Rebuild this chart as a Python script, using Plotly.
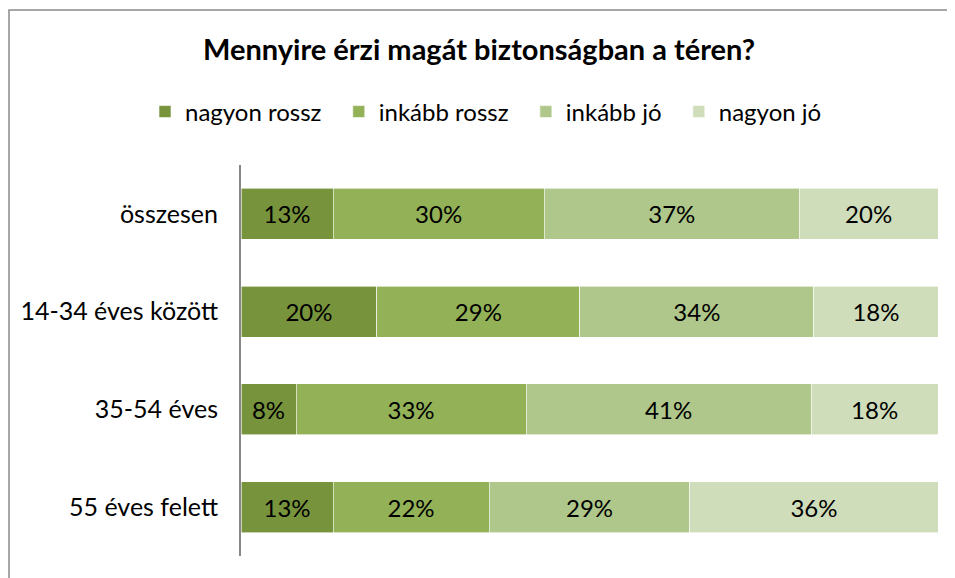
import plotly.graph_objects as go

categories = ["összesen", "14-34 éves között", "35-54 éves", "55 éves felett"]
series_names = ["nagyon rossz", "inkább rossz", "inkább jó", "nagyon jó"]
nagyon_rossz = [13.2, 19.5, 7.9, 13.2]
inkabb_rossz = [30.3, 29.1, 33.0, 22.4]
inkabb_jo = [36.6, 33.6, 40.9, 28.8]
nagyon_jo = [19.9, 17.8, 18.2, 35.6]
labels_nagyon_rossz = ["13%", "20%", "8%", "13%"]
labels_inkabb_rossz = ["30%", "29%", "33%", "22%"]
labels_inkabb_jo = ["37%", "34%", "41%", "29%"]
labels_nagyon_jo = ["20%", "18%", "18%", "36%"]
colors = ["#77933C", "#93B157", "#AFC78A", "#CFDDBA"]

values = [nagyon_rossz, inkabb_rossz, inkabb_jo, nagyon_jo]
labels = [labels_nagyon_rossz, labels_inkabb_rossz, labels_inkabb_jo, labels_nagyon_jo]

FONT = "Lato, Carlito, Calibri, sans-serif"
PAD = "\u00a0\u00a0"

fig = go.Figure()
for i, (name, vals, labs, col) in enumerate(zip(series_names, values, labels, colors)):
    fig.add_trace(go.Bar(
        name=name + (PAD if i < len(series_names) - 1 else ""),
        y=categories, x=vals, orientation="h",
        marker=dict(color=col, line=dict(width=0.6, color="white")),
        text=labs, textposition="inside", insidetextanchor="middle",
        constraintext="none",
        textfont=dict(size=24, color="black", family=FONT),
        width=0.52,
    ))

# page offset of the figure (browser body margin)
OX, OY = 8, 8
W, H = 955 - OX, 578 - OY
L, R, T, B = 241 - OX, 955 - 938, 165 - OY, 578 - 556
pw, ph = W - L - R, H - T - B

def px_to_paper_x(px):
    return (px - 241) / pw

def px_to_paper_y(py):
    return (556 - py) / ph

fig.update_layout(
    width=W, height=H,
    barmode="stack",
    margin=dict(l=L, r=R, t=T, b=B),
    plot_bgcolor="white", paper_bgcolor="white",
    font=dict(family=FONT, size=25, color="black"),
    title=dict(text="<b>Mennyire érzi magát biztonságban a téren?</b>",
               x=(479 - OX) / W, xref="container", xanchor="center",
               y=1 - (50 - OY) / H, yref="container", yanchor="middle",
               font=dict(size=29, family=FONT, color="black")),
    legend=dict(orientation="h", x=px_to_paper_x(145), xanchor="left",
                y=px_to_paper_y(112), yanchor="middle",
                font=dict(size=24, family=FONT), traceorder="normal",
                itemwidth=30),
    xaxis=dict(range=[0, 100], visible=False, fixedrange=True),
    yaxis=dict(autorange="reversed", showgrid=False, showline=True,
               linecolor="#888888", linewidth=2, ticks="",
               ticklabelstandoff=16, tickfont=dict(size=25, family=FONT)),
    shapes=[dict(type="rect", xref="paper", yref="paper",
                 x0=px_to_paper_x(9), x1=px_to_paper_x(962),
                 y0=px_to_paper_y(590), y1=px_to_paper_y(10),
                 line=dict(color="#8a8a8a", width=1.5), fillcolor="rgba(0,0,0,0)")],
)

fig.write_html("out.html")
